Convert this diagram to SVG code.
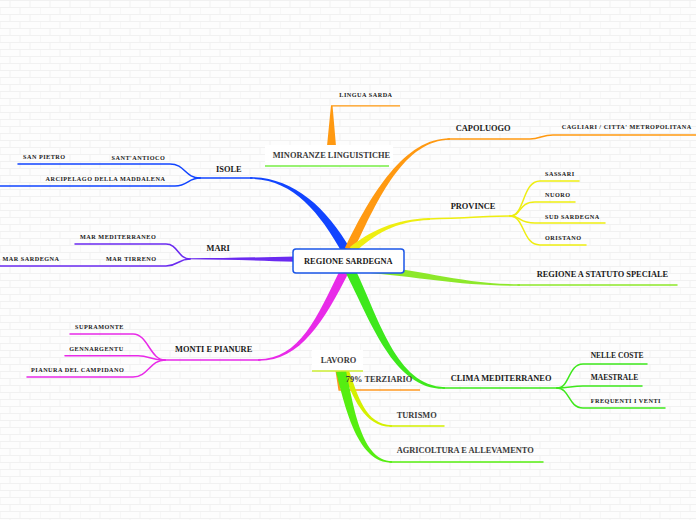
<svg xmlns="http://www.w3.org/2000/svg" width="696" height="520" viewBox="0 0 696 520">
<defs>
<pattern id="brick" width="40" height="14" patternUnits="userSpaceOnUse">
<rect width="40" height="14" fill="#fdfdfd"/>
<path d="M0 0.5H40M0 7.5H40M10 0V7M30 0V7M0 7V14M20 7V14" stroke="#f1f1f1" stroke-width="1" fill="none"/>
</pattern>
<style>
.m{font-family:"Liberation Serif","Times New Roman",serif;font-weight:bold;font-size:8.4px;fill:#1a1a1a}
.s{font-family:"Liberation Serif","Times New Roman",serif;font-weight:bold;font-size:6.2px;letter-spacing:0.5px;fill:#1a1a1a}
.c{font-family:"Liberation Serif","Times New Roman",serif;font-weight:bold;font-size:7.5px;fill:#1a1a1a}
.g{fill:#3a3a3a}
.ln{fill:none;stroke-width:1.5;stroke-linecap:round}
</style>
</defs>
<rect width="696" height="520" fill="url(#brick)"/>

<g id="connectors">
<!-- ISOLE blue -->
<path d="M343.1 254.2 C318.5 210.2 292 179 250 178.8 L250 177.2 C292 177 325.5 205.8 350.9 249.8 Z" fill="#1144ff"/>
<path class="ln" stroke="#1144ff" d="M252 178 L200 178"/>
<path class="ln" stroke="#1144ff" d="M200 178 C185 178 185 164 170 164 L18 164"/>
<path class="ln" stroke="#1144ff" d="M200 178 C188 178 188 186 175 186 L0 186"/>
<!-- MARI purple -->
<path d="M345 255.5 L345 263.5 C280 261.5 240 259.6 190 259.3 L190 258.3 C240 258.2 280 256.5 345 255.5 Z" fill="#6a2af0"/>
<path class="ln" stroke="#6a2af0" d="M190 259 C178 259 178 244 166 244 L75 244"/>
<path class="ln" stroke="#6a2af0" d="M190 259 C178 259 178 266 166 266 L0 266"/>
<!-- MONTI magenta -->
<path d="M349 272 C323.5 321.8 300 361.5 258 360.7 L258 359.3 C300 358.5 316.5 318.2 341 268 Z" fill="#e82ae8"/>
<path class="ln" stroke="#e82ae8" d="M260 360 L165 360"/>
<path class="ln" stroke="#e82ae8" d="M165 360 C150 360 148 334 133 334 L70 334"/>
<path class="ln" stroke="#e82ae8" d="M165 360 C150 360 150 355.7 138 355.7 L65 355.7"/>
<path class="ln" stroke="#e82ae8" d="M165 360 C150 360 148 377 133 377 L27 377"/>
<!-- CAPOLUOGO orange -->
<path d="M344.9 248.1 C371.4 193.3 405 138 450 138.3 L450 139.7 C405 140 378.6 196.7 353.1 251.9 Z" fill="#ff9911"/>
<path class="ln" stroke="#ff9911" d="M448 139 L530 139 C540 139 542 135 553 135 L696 135"/>
<!-- PROVINCE yellow -->
<path d="M349.7 247.3 C370 231 395 219 430 218 L430 220 C395 221 374 235 354.3 252.7 Z" fill="#eeee11"/>
<path class="ln" stroke="#eeee11" d="M428 219 C470 218 490 216 510 216"/>
<path class="ln" stroke="#eeee11" d="M510 216 C525 216 522 181 540 181 L579 181"/>
<path class="ln" stroke="#eeee11" d="M510 216 C522 216 518 202 535 202 L575 202"/>
<path class="ln" stroke="#eeee11" d="M510 216 C522 216 518 223 535 223 L605 223"/>
<path class="ln" stroke="#eeee11" d="M510 216 C525 216 522 245 540 245 L586 245"/>
<!-- STATUTO light green -->
<path d="M360 264 C420 269 460 284 520 284.3 L520 285.7 C460 286 420 277 360 272 Z" fill="#8de82a"/>
<path class="ln" stroke="#8de82a" d="M518 285 L677 285"/>
<!-- CLIMA green -->
<path d="M354.5 267.8 C379 318 396 386 445 387.2 L445 388.8 C394 390 371 322 345.5 272.2 Z" fill="#3ee81c"/>
<path class="ln" stroke="#3ee81c" d="M443 388 L557 388"/>
<path class="ln" stroke="#3ee81c" d="M557 388 C570 388 568 364 583 364 L647 364"/>
<path class="ln" stroke="#3ee81c" d="M557 388 C568 388 572 386 583 386 L642 386"/>
<path class="ln" stroke="#3ee81c" d="M557 388 C570 388 568 408 583 408 L665 408"/>
<!-- MINORANZE -> LINGUA SARDA orange -->
<path d="M327 146 L336 146 L332.6 106.6 L400 106.6 L400 105.2 L331 105.2 Z" fill="#ff9911"/>
<!-- LAVORO subs -->
<path d="M335.5 371 L340 371 L340.5 389.3 L420 389.3 L420 390.7 L338.5 390.7 Z" fill="#ff9922"/>
<path d="M348.8 370 C357.5 394 365 425 392 425.2 L392 426.8 C364 427.5 352.5 396 343.2 372 Z" fill="#d4f000"/>
<path class="ln" stroke="#d4f000" d="M390 426 L444 426"/>
<path d="M345.9 369.9 C354 409 362 460.5 392 461.2 L392 462.8 C358 463 346 411 336.1 372.1 Z" fill="#55ee11"/>
<path class="ln" stroke="#55ee11" d="M390 462 L543 462"/>
</g>

<g id="center">
<rect x="293" y="249" width="111" height="24" rx="3" fill="#ffffff" stroke="#1a55e8" stroke-width="1.5"/>
<text class="m" x="304" y="264">REGIONE SARDEGNA</text>
</g>

<g id="isole">
<text class="m" x="216" y="171.5">ISOLE</text>
<text class="s" x="23" y="159">SAN PIETRO</text>
<text class="s" x="111.5" y="160">SANT'ANTIOCO</text>
<text class="s" x="45.5" y="180.7">ARCIPELAGO DELLA MADDALENA</text>
</g>

<g id="mari">
<text class="m" x="206.5" y="251">MARI</text>
<text class="s" x="80" y="239">MAR MEDITERRANEO</text>
<text class="s" x="2.5" y="261">MAR SARDEGNA</text>
<text class="s" x="106" y="261">MAR TIRRENO</text>
</g>

<g id="monti">
<text class="m" x="175" y="352">MONTI E PIANURE</text>
<text class="s" x="75" y="328.7">SUPRAMONTE</text>
<text class="s" x="69.3" y="350.7">GENNARGENTU</text>
<text class="s" x="31" y="372.3">PIANURA DEL CAMPIDANO</text>
</g>

<g id="minoranze">
<rect x="265" y="145" width="128" height="21" fill="#ffffff"/>
<path d="M265 166 L389 166" stroke="#77ee44" stroke-width="1.5"/>
<text class="m g" x="272.7" y="157.7">MINORANZE LINGUISTICHE</text>
<text class="s" x="339.3" y="97.3">LINGUA SARDA</text>
</g>

<g id="capoluogo">
<text class="m" x="455.7" y="130.7">CAPOLUOGO</text>
<text class="s" x="561.7" y="129.3">CAGLIARI / CITTA' METROPOLITANA</text>
</g>

<g id="province">
<text class="m" x="450.7" y="209">PROVINCE</text>
<text class="s" x="545" y="176">SASSARI</text>
<text class="s" x="545" y="196.7">NUORO</text>
<text class="s" x="545" y="218.7">SUD SARDEGNA</text>
<text class="s" x="545" y="240">ORISTANO</text>
</g>

<g id="statuto">
<text class="m" x="536.7" y="276.7">REGIONE A STATUTO SPECIALE</text>
</g>

<g id="clima">
<text class="m" x="450.7" y="380.7">CLIMA MEDITERRANEO</text>
<text class="c" x="590.7" y="358.3">NELLE COSTE</text>
<text class="c" x="590.7" y="380">MAESTRALE</text>
<text class="s" x="590.7" y="403.3">FREQUENTI I VENTI</text>
</g>

<g id="lavoro">
<rect x="312" y="350" width="51" height="21" fill="#ffffff"/>
<path d="M312 371 L363 371" stroke="#ccee33" stroke-width="1.5"/>
<text class="m g" x="320.7" y="362.7">LAVORO</text>
<text class="m g" x="345.7" y="381.7">79% TERZIARIO</text>
<text class="m g" x="396.7" y="417.7">TURISMO</text>
<text class="m g" x="396.7" y="453.3">AGRICOLTURA E ALLEVAMENTO</text>
</g>
</svg>
